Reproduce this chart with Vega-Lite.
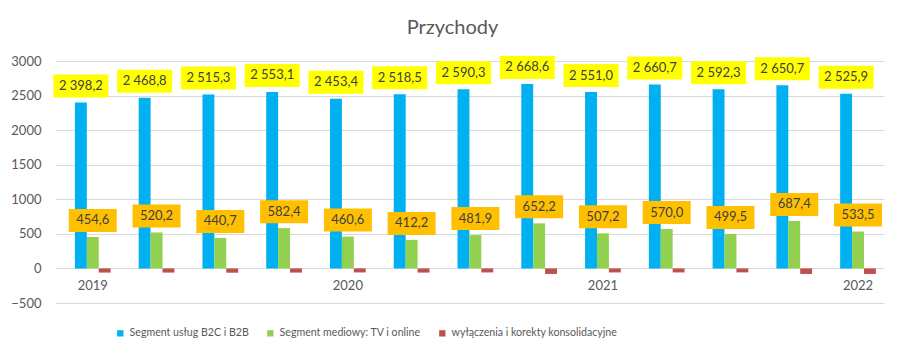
{
  "$schema": "https://vega.github.io/schema/vega-lite/v6.json",
  "width": 829,
  "height": 242,
  "autosize": {"type": "none"},
  "padding": {"left": 55, "top": 61, "right": 20, "bottom": 57},
  "background": "white",
  "title": {"text": "Przychody", "fontSize": 20, "font": "Lato", "fontWeight": "normal", "color": "#595959", "anchor": "middle", "dx": -17, "offset": 17},
  "config": {
    "view": {"stroke": null},
    "font": "Lato",
    "locale": {"number": {"decimal": ",", "thousands": " ", "grouping": [3], "currency": ["", " zł"]}}
  },
  "data": {
    "values": [
      {"kw": "2019-Q1", "seria": "Segment usług B2C i B2B", "wartosc": 2398.2},
      {"kw": "2019-Q2", "seria": "Segment usług B2C i B2B", "wartosc": 2468.8},
      {"kw": "2019-Q3", "seria": "Segment usług B2C i B2B", "wartosc": 2515.3},
      {"kw": "2019-Q4", "seria": "Segment usług B2C i B2B", "wartosc": 2553.1},
      {"kw": "2020-Q1", "seria": "Segment usług B2C i B2B", "wartosc": 2453.4},
      {"kw": "2020-Q2", "seria": "Segment usług B2C i B2B", "wartosc": 2518.5},
      {"kw": "2020-Q3", "seria": "Segment usług B2C i B2B", "wartosc": 2590.3},
      {"kw": "2020-Q4", "seria": "Segment usług B2C i B2B", "wartosc": 2668.6},
      {"kw": "2021-Q1", "seria": "Segment usług B2C i B2B", "wartosc": 2551.0},
      {"kw": "2021-Q2", "seria": "Segment usług B2C i B2B", "wartosc": 2660.7},
      {"kw": "2021-Q3", "seria": "Segment usług B2C i B2B", "wartosc": 2592.3},
      {"kw": "2021-Q4", "seria": "Segment usług B2C i B2B", "wartosc": 2650.7},
      {"kw": "2022-Q1", "seria": "Segment usług B2C i B2B", "wartosc": 2525.9},
      {"kw": "2019-Q1", "seria": "Segment mediowy: TV i online", "wartosc": 454.6},
      {"kw": "2019-Q2", "seria": "Segment mediowy: TV i online", "wartosc": 520.2},
      {"kw": "2019-Q3", "seria": "Segment mediowy: TV i online", "wartosc": 440.7},
      {"kw": "2019-Q4", "seria": "Segment mediowy: TV i online", "wartosc": 582.4},
      {"kw": "2020-Q1", "seria": "Segment mediowy: TV i online", "wartosc": 460.6},
      {"kw": "2020-Q2", "seria": "Segment mediowy: TV i online", "wartosc": 412.2},
      {"kw": "2020-Q3", "seria": "Segment mediowy: TV i online", "wartosc": 481.9},
      {"kw": "2020-Q4", "seria": "Segment mediowy: TV i online", "wartosc": 652.2},
      {"kw": "2021-Q1", "seria": "Segment mediowy: TV i online", "wartosc": 507.2},
      {"kw": "2021-Q2", "seria": "Segment mediowy: TV i online", "wartosc": 570.0},
      {"kw": "2021-Q3", "seria": "Segment mediowy: TV i online", "wartosc": 499.5},
      {"kw": "2021-Q4", "seria": "Segment mediowy: TV i online", "wartosc": 687.4},
      {"kw": "2022-Q1", "seria": "Segment mediowy: TV i online", "wartosc": 533.5},
      {"kw": "2019-Q1", "seria": "wyłączenia i korekty konsolidacyjne", "wartosc": -60},
      {"kw": "2019-Q2", "seria": "wyłączenia i korekty konsolidacyjne", "wartosc": -60},
      {"kw": "2019-Q3", "seria": "wyłączenia i korekty konsolidacyjne", "wartosc": -62},
      {"kw": "2019-Q4", "seria": "wyłączenia i korekty konsolidacyjne", "wartosc": -60},
      {"kw": "2020-Q1", "seria": "wyłączenia i korekty konsolidacyjne", "wartosc": -58},
      {"kw": "2020-Q2", "seria": "wyłączenia i korekty konsolidacyjne", "wartosc": -60},
      {"kw": "2020-Q3", "seria": "wyłączenia i korekty konsolidacyjne", "wartosc": -58},
      {"kw": "2020-Q4", "seria": "wyłączenia i korekty konsolidacyjne", "wartosc": -80},
      {"kw": "2021-Q1", "seria": "wyłączenia i korekty konsolidacyjne", "wartosc": -58},
      {"kw": "2021-Q2", "seria": "wyłączenia i korekty konsolidacyjne", "wartosc": -58},
      {"kw": "2021-Q3", "seria": "wyłączenia i korekty konsolidacyjne", "wartosc": -57},
      {"kw": "2021-Q4", "seria": "wyłączenia i korekty konsolidacyjne", "wartosc": -80},
      {"kw": "2022-Q1", "seria": "wyłączenia i korekty konsolidacyjne", "wartosc": -80}
    ]
  },
  "encoding": {
    "x": {
      "field": "kw", "type": "nominal", "sort": null,
      "scale": {"paddingInner": 0.44, "paddingOuter": 0.22, "align": 0.71},
      "axis": {"title": null, "labelAngle": 0, "domain": false, "ticks": false, "grid": false, "offset": -34.6, "labelPadding": 11,
        "labelExpr": "slice(datum.value, 5) == 'Q1' ? slice(datum.value, 0, 4) : ''",
        "labelFontSize": 13, "labelColor": "#595959", "labelFont": "Lato"}
    },
    "xOffset": {
      "field": "seria", "type": "nominal",
      "scale": {"domain": ["Segment usług B2C i B2B", "Segment mediowy: TV i online", "wyłączenia i korekty konsolidacyjne"], "paddingInner": 0, "paddingOuter": 0}
    },
    "y": {
      "field": "wartosc", "type": "quantitative",
      "scale": {"domain": [-500, 3000], "nice": false, "zero": false},
      "axis": {"title": null, "values": [-500, 0, 500, 1000, 1500, 2000, 2500, 3000], "format": "d", "domain": false, "ticks": false,
        "labelPadding": 14, "labelColor": "#595959", "labelFontSize": 13, "labelFont": "Lato", "gridColor": "#D9D9D9", "gridWidth": 1}
    }
  },
  "layer": [
    {
      "mark": {"type": "bar"},
      "encoding": {
        "color": {
          "field": "seria", "type": "nominal",
          "scale": {"domain": ["Segment usług B2C i B2B", "Segment mediowy: TV i online", "wyłączenia i korekty konsolidacyjne"], "range": ["#00B0F0", "#92D050", "#C0504D"]},
          "legend": {"orient": "none", "legendX": 60, "legendY": 267, "direction": "horizontal", "title": null, "symbolType": "square", "symbolSize": 40,
            "symbolStrokeWidth": 0, "labelFontSize": 10.6, "labelColor": "#595959", "labelFont": "Lato", "columnPadding": 16, "labelOffset": 4, "labelLimit": 400}
        }
      }
    },
    {
      "transform": [{"filter": "datum.seria == 'Segment usług B2C i B2B'"}],
      "mark": {"type": "point", "shape": "M-1,-0.418H1V0.418H-1Z", "size": 3025, "filled": true, "fill": "#FFFF00", "opacity": 1, "strokeWidth": 0, "yOffset": -16.5}
    },
    {
      "transform": [{"filter": "datum.seria == 'Segment usług B2C i B2B'"}],
      "mark": {"type": "text", "fontSize": 13, "font": "Lato", "color": "#404040", "align": "center", "baseline": "middle", "yOffset": -16.5},
      "encoding": {"text": {"field": "wartosc", "type": "quantitative", "format": ",.1f"}}
    },
    {
      "transform": [{"filter": "datum.seria == 'Segment mediowy: TV i online'"}],
      "mark": {"type": "point", "shape": "M-1,-0.479H1V0.479H-1Z", "size": 2304, "filled": true, "fill": "#FFC000", "opacity": 1, "strokeWidth": 0, "yOffset": -16.5}
    },
    {
      "transform": [{"filter": "datum.seria == 'Segment mediowy: TV i online'"}],
      "mark": {"type": "text", "fontSize": 13, "font": "Lato", "color": "#404040", "align": "center", "baseline": "middle", "yOffset": -16.5},
      "encoding": {"text": {"field": "wartosc", "type": "quantitative", "format": ",.1f"}}
    }
  ]
}
